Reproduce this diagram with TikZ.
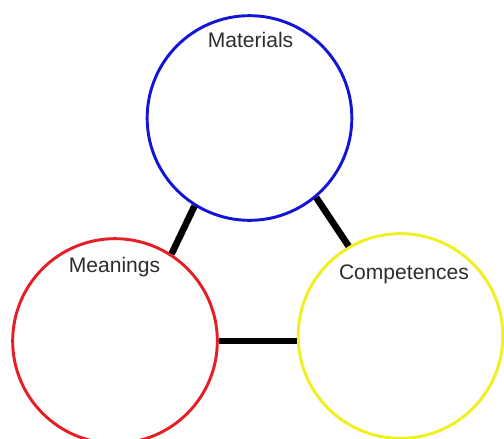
\documentclass[tikz,border=0pt]{standalone}
\usepackage{fontspec}
\setmainfont{Liberation Sans}
\definecolor{cblue}{RGB}{20,20,215}
\definecolor{cred}{RGB}{228,30,36}
\definecolor{cyellow}{RGB}{240,240,30}
\definecolor{ctext}{RGB}{45,45,45}
\begin{document}
\begin{tikzpicture}[x=0.75pt,y=-0.75pt,
  ring/.style={circle,draw,line width=2.2pt,minimum size=153.5pt,inner sep=0pt},
  link/.style={draw=black,line width=5pt},
  lbl/.style={text=ctext,font=\fontsize{15.8}{19}\selectfont,inner sep=0pt}]
\useasboundingbox (0,0) rectangle (504,439);
\node[ring,draw=cblue] (mat) at (249.5,118) {};
\node[ring,draw=cred] (mea) at (115,341) {};
\node[ring,draw=cyellow] (com) at (400.5,336) {};
\node[lbl] (tmat) at (250.5,40) {Materials};
\node[lbl] (tmea) at (114.5,267) {Meanings};
\node[lbl] (tcom) at (404,274.5) {Competences};
\draw[link] (mat.-122) -- (mea.57);
\draw[link] (mat.-50) -- (com.120);
\draw[link] (mea.east) -- (mea.east -| com.west);
\end{tikzpicture}
\end{document}
